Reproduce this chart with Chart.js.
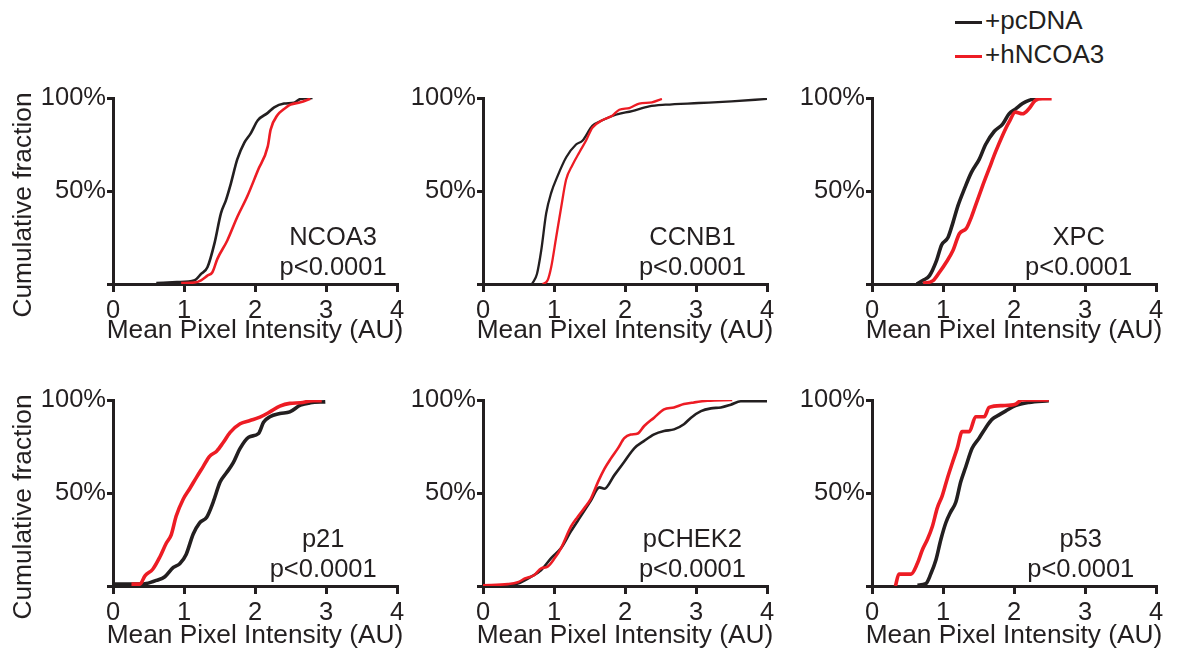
<!DOCTYPE html>
<html>
<head>
<meta charset="utf-8">
<script src="https://cdn.jsdelivr.net/npm/chart.js@4.4.1/dist/chart.umd.min.js"></script>
<style>
    body { margin: 0; background: #fff; width: 1178px; height: 651px; position: relative; overflow: hidden;
           font-family: "Liberation Sans", Arial, sans-serif; color: #231f20; }
    .panel { position: absolute; width: 410px; height: 270px; }
    .leg { position: absolute; left: 955px; font-size: 26px; line-height: 30px; white-space: nowrap; }
    .leg span { display: inline-block; width: 27px; height: 3px; vertical-align: middle; margin-right: 3px; }
</style>
</head>
<body>
<div class="leg" style="top:5px"><span style="background:#231f20"></span>+pcDNA</div>
<div class="leg" style="top:39px"><span style="background:#ed1c24"></span>+hNCOA3</div>

<div class="panel" style="left:0px;top:80px"><canvas id="c1"></canvas></div>
<div class="panel" style="left:370px;top:80px"><canvas id="c2"></canvas></div>
<div class="panel" style="left:759px;top:80px"><canvas id="c3"></canvas></div>
<div class="panel" style="left:0px;top:382px"><canvas id="c4"></canvas></div>
<div class="panel" style="left:370px;top:382px"><canvas id="c5"></canvas></div>
<div class="panel" style="left:759px;top:382px"><canvas id="c6"></canvas></div>

<script>
// Courbes : intensité (AU) et fraction cumulée (%)
var seriesNames = ['+pcDNA', '+hNCOA3'];
var xTicks = [0, 1, 2, 3, 4];
var yTicks = [0, 50, 100];

// NCOA3
var ncoa3PcX = [0.61, 0.9, 1.15, 1.24, 1.33, 1.43, 1.52, 1.59, 1.66, 1.75, 1.85, 1.94, 2.04, 2.18, 2.27, 2.41, 2.55, 2.64, 2.81];
var ncoa3PcY = [0.5, 1, 2, 5.4, 9, 22, 38, 45, 54, 67, 76, 81, 88, 92, 95, 97, 97.5, 99.5, 100];
var ncoa3HX = [0.96, 1.15, 1.24, 1.33, 1.40, 1.47, 1.61, 1.75, 1.89, 2.04, 2.18, 2.22, 2.32, 2.39, 2.50, 2.64, 2.78];
var ncoa3HY = [0.5, 0.8, 2, 4.5, 6.3, 13.5, 23.4, 36, 47, 61, 74, 83, 91, 93.5, 96.4, 97.7, 99.6];

// CCNB1
var ccnb1PcX = [0.69, 0.76, 0.82, 0.89, 0.96, 1.05, 1.17, 1.31, 1.40, 1.54, 1.68, 1.87, 2.10, 2.34, 2.57, 3.04, 3.50, 4.0];
var ccnb1PcY = [0, 5.4, 18, 38, 49, 58, 68, 75, 77, 85, 88, 91, 93, 95.5, 96.4, 97.3, 98.2, 99.5];
var ccnb1HX = [0.84, 0.91, 0.96, 1.03, 1.10, 1.17, 1.26, 1.36, 1.45, 1.54, 1.68, 1.82, 1.92, 2.06, 2.20, 2.38, 2.52];
var ccnb1HY = [0, 2, 9, 25, 41, 56, 64, 71, 77, 84, 88, 90.5, 93.7, 94.6, 97, 97.7, 99.5];

// XPC
var xpcPcX = [0.63, 0.72, 0.81, 0.91, 0.98, 1.07, 1.14, 1.21, 1.30, 1.40, 1.51, 1.60, 1.72, 1.84, 1.93, 2.02, 2.12, 2.21, 2.33];
var xpcPcY = [0, 2, 4.5, 12.7, 21, 25, 33, 42, 51, 60, 67, 75, 82, 86, 91.5, 94, 97, 98.7, 100];
var xpcHX = [0.72, 0.86, 0.95, 1.05, 1.14, 1.23, 1.33, 1.40, 1.47, 1.56, 1.65, 1.74, 1.84, 1.93, 2.02, 2.12, 2.21, 2.30, 2.40, 2.53];
var xpcHY = [0.4, 1.8, 6.3, 12, 18, 27, 30, 36, 43.5, 53, 62, 71, 80, 87, 92.4, 91.5, 94.2, 98.7, 99.6, 99.6];

// p21
var p21PcX = [0, 0.38, 0.47, 0.61, 0.73, 0.85, 0.94, 1.03, 1.13, 1.22, 1.32, 1.41, 1.51, 1.60, 1.69, 1.79, 1.91, 2.05, 2.12, 2.21, 2.35, 2.49, 2.64, 2.78, 2.99];
var p21PcY = [1, 1, 1.3, 3, 5, 10, 12, 17, 28, 34, 37, 45, 56, 61, 66, 74, 80, 82, 88, 91, 92.7, 93.6, 97.2, 98.5, 99];
var p21HX = [0.26, 0.38, 0.45, 0.56, 0.66, 0.75, 0.82, 0.89, 0.99, 1.08, 1.18, 1.27, 1.36, 1.46, 1.55, 1.65, 1.79, 1.93, 2.07, 2.21, 2.35, 2.49, 2.64, 2.82, 2.94];
var p21HY = [1, 1, 5.5, 9, 15.6, 23, 27.5, 37.6, 46.8, 52.3, 58.7, 64.2, 69.7, 72.5, 77, 82.6, 87.2, 89, 90.8, 93.6, 96.7, 98.2, 98.5, 99.6, 99.6];

// pCHEK2
var chek2PcX = [0, 0.21, 0.49, 0.68, 0.82, 0.96, 1.10, 1.24, 1.38, 1.52, 1.64, 1.71, 1.85, 1.99, 2.13, 2.27, 2.41, 2.55, 2.69, 2.83, 2.93, 3.07, 3.21, 3.35, 3.49, 3.63, 3.77, 4.0];
var chek2PcY = [0, 0, 1.3, 5, 8.6, 15, 20.4, 29.5, 37.7, 46, 53, 52.3, 59.6, 66.8, 74, 78, 81.5, 83.3, 84.2, 87, 90.5, 94, 95.5, 96, 97.5, 99.3, 99.3, 99.3];
var chek2HX = [0, 0.35, 0.49, 0.59, 0.72, 0.82, 0.91, 1.01, 1.10, 1.24, 1.33, 1.43, 1.52, 1.62, 1.71, 1.80, 1.90, 1.99, 2.08, 2.18, 2.27, 2.41, 2.55, 2.69, 2.83, 2.97, 3.16, 3.51];
var chek2HY = [0.4, 1, 2, 4, 5.8, 9.5, 10.4, 15, 20.4, 32, 37, 42, 47, 56, 63, 68.5, 74, 79.5, 81.4, 82, 86, 90.5, 95, 96, 97.8, 98.7, 99.6, 100];

// p53
var p53PcX = [0.64, 0.76, 0.83, 0.90, 0.97, 1.04, 1.11, 1.18, 1.25, 1.32, 1.41, 1.51, 1.60, 1.69, 1.79, 1.88, 2.02, 2.21, 2.49];
var p53PcY = [0.4, 1.3, 6.7, 14, 25, 34, 40, 45, 56, 64, 74, 79.6, 85, 89.6, 92, 94, 97, 98.7, 99.6];
var p53HX = [0.33, 0.38, 0.55, 0.64, 0.71, 0.78, 0.85, 0.92, 0.99, 1.06, 1.13, 1.20, 1.27, 1.37, 1.46, 1.58, 1.65, 1.84, 2.02, 2.11, 2.49];
var p53HY = [0, 6.4, 6.4, 12.2, 19.5, 25, 32, 42, 48.6, 57.7, 66, 74, 83, 83, 91, 91, 96, 97, 97.7, 100, 100];

var BLACK = '#231f20';
var RED = '#ed1c24';
var FONT = '"Liberation Sans", Arial, sans-serif';

function toPoints(xs, ys) {
    var pts = [];
    for (var i = 0; i < xs.length; i++) {
        pts.push({ x: xs[i], y: ys[i] });
    }
    return pts;
}

// Nom du gène, p-value, titres des axes dessinés sur le canvas
// (le titre d'axe de Chart.js est comprimé à la largeur de l'échelle)
var panelText = {
    id: 'panelText',
    afterDraw: function(chart, args, opts) {
        var ctx = chart.ctx;
        var area = chart.chartArea;
        var x = chart.scales.x.getPixelForValue(opts.at);
        ctx.save();
        ctx.fillStyle = BLACK;
        ctx.font = '25.5px ' + FONT;
        ctx.textAlign = 'center';
        ctx.textBaseline = 'alphabetic';
        ctx.fillText(opts.name, x, area.bottom - 39);
        ctx.fillText('p<0.0001', x, area.bottom - 9);

        ctx.font = '26.3px ' + FONT;
        ctx.fillText('Mean Pixel Intensity (AU)', (area.left + area.right) / 2, area.bottom + opts.titleDy);

        if (opts.yTitle) {
            ctx.translate(24, 125);
            ctx.rotate(-Math.PI / 2);
            ctx.textBaseline = 'middle';
            ctx.fillText('Cumulative fraction', 0, 0);
        }
        ctx.restore();
    }
};

function makePanel(id, name, at, pcX, pcY, hX, hY, lineW, yTitle, titleDy) {
    var ctx = document.getElementById(id).getContext('2d');
    return new Chart(ctx, {
        type: 'line',
        data: {
            datasets: [{
                label: seriesNames[0],
                data: toPoints(pcX, pcY),
                borderColor: BLACK,
                borderWidth: lineW,
                pointRadius: 0,
                cubicInterpolationMode: 'monotone',
                order: 1
            }, {
                label: seriesNames[1],
                data: toPoints(hX, hY),
                borderColor: RED,
                borderWidth: lineW,
                pointRadius: 0,
                cubicInterpolationMode: 'monotone',
                order: 0
            }]
        },
        options: {
            responsive: true,
            maintainAspectRatio: false,
            animation: false,
            layout: { padding: { left: 0, top: 18, right: 13, bottom: 0 } },
            plugins: {
                legend: { display: false },
                tooltip: { enabled: false },
                panelText: { name: name, at: at, yTitle: yTitle, titleDy: titleDy }
            },
            scales: {
                x: {
                    type: 'linear',
                    min: 0,
                    max: 4,
                    afterBuildTicks: function(s) { s.ticks = xTicks.map(function(v) { return { value: v }; }); },
                    afterFit: function(s) { s.height = 66; },
                    ticks: { color: BLACK, font: { family: FONT, size: 25.5 }, padding: 4, maxRotation: 0 },
                    grid: { drawOnChartArea: false, drawTicks: true, tickLength: 8, lineWidth: 3, color: BLACK },
                    border: { display: true, width: 3, color: BLACK }
                },
                y: {
                    min: 0,
                    max: 100,
                    afterBuildTicks: function(s) { s.ticks = yTicks.map(function(v) { return { value: v }; }); },
                    afterFit: function(s) { s.width = 113; },
                    ticks: { color: BLACK, font: { family: FONT, size: 25.5 }, padding: 1,
                             callback: function(v) { return v === 0 ? '' : v + '%'; } },
                    grid: { drawOnChartArea: false, drawTicks: true, tickLength: 6, lineWidth: 3, color: BLACK },
                    border: { display: true, width: 3, color: BLACK }
                }
            }
        },
        plugins: [panelText]
    });
}

makePanel('c1', 'NCOA3', 3.1, ncoa3PcX, ncoa3PcY, ncoa3HX, ncoa3HY, 2.6, true, 54);
makePanel('c2', 'CCNB1', 2.95, ccnb1PcX, ccnb1PcY, ccnb1HX, ccnb1HY, 2.3, false, 54);
makePanel('c3', 'XPC', 2.91, xpcPcX, xpcPcY, xpcHX, xpcHY, 3.6, false, 54);
makePanel('c4', 'p21', 2.96, p21PcX, p21PcY, p21HX, p21HY, 3.6, true, 57);
makePanel('c5', 'pCHEK2', 2.95, chek2PcX, chek2PcY, chek2HX, chek2HY, 2.6, false, 57);
makePanel('c6', 'p53', 2.94, p53PcX, p53PcY, p53HX, p53HY, 3.6, false, 57);
</script>
</body>
</html>
